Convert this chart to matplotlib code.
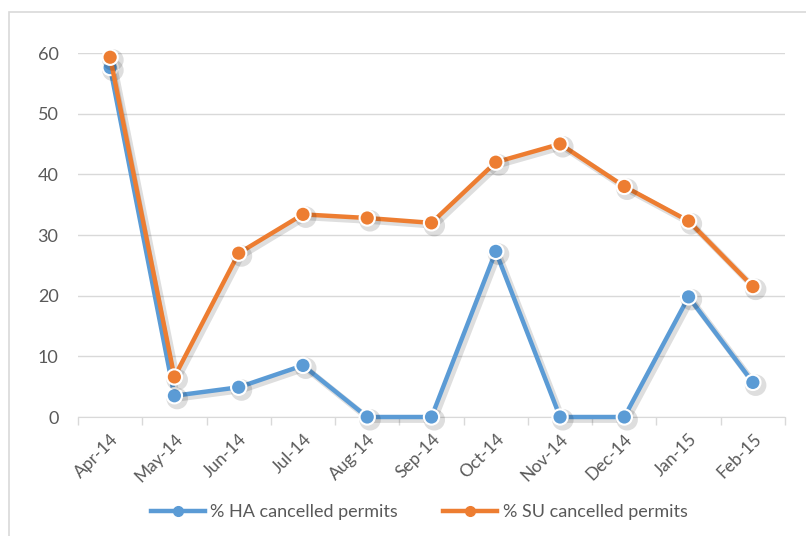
import matplotlib.pyplot as plt
import matplotlib.patheffects as pe
from matplotlib.patches import Rectangle
from matplotlib.lines import Line2D

months = ['Apr-14', 'May-14', 'Jun-14', 'Jul-14', 'Aug-14', 'Sep-14',
          'Oct-14', 'Nov-14', 'Dec-14', 'Jan-15', 'Feb-15']
ha_pct = [57.6, 3.5, 4.9, 8.5, 0, 0, 27.3, 0, 0, 19.8, 5.7]
su_pct = [59.3, 6.6, 27.0, 33.4, 32.8, 32.0, 42.0, 45.0, 38.0, 32.3, 21.5]

blue = '#5B9BD5'
orange = '#ED7D31'
txt = '#595959'

plt.rcParams['font.family'] = ['Lato', 'DejaVu Sans']

fig = plt.figure(figsize=(8.06, 5.36), dpi=100)
# outer chart frame (bottom/right edges fall outside the picture)
fig.patches.append(Rectangle((9 / 806, -0.05), 1.1, 1 - 12 / 536 + 0.05,
                             transform=fig.transFigure, fill=False,
                             edgecolor='#D9D9D9', linewidth=1.2))

ax = fig.add_axes([78 / 806, 1 - 417 / 536, (785 - 78) / 806, (417 - 53) / 536])

x = list(range(len(months)))
shadow = [pe.SimpleLineShadow(offset=(2, -2), shadow_color='black', alpha=0.13,
                              linewidth=4.5), pe.Normal()]
handles = []
for vals, col, lab in [(ha_pct, blue, '% HA cancelled permits'),
                       (su_pct, orange, '% SU cancelled permits')]:
    ax.plot(x, vals, color=col, linewidth=3.2, marker='o', markersize=11,
            markerfacecolor=col, markeredgecolor='white', markeredgewidth=1.5,
            clip_on=False, zorder=3, path_effects=shadow)
    handles.append(Line2D([], [], color=col, linewidth=3.2, marker='o',
                          markersize=7, markeredgecolor=col, label=lab))

ax.set_xlim(-0.5, len(months) - 0.5)
ax.set_ylim(0, 60)
ax.set_yticks([0, 10, 20, 30, 40, 50, 60])
ax.grid(axis='y', color='#D9D9D9', linewidth=1)
ax.set_axisbelow(True)

ax.set_xticks(x)
ax.set_xticklabels(months, rotation=45, ha='right', va='top', rotation_mode='anchor')
ax.set_xticks([i - 0.5 for i in range(len(months) + 1)], minor=True)
ax.tick_params(axis='x', which='major', length=0, pad=10, labelsize=12.5, labelcolor=txt)
ax.tick_params(axis='x', which='minor', length=6, color='#D9D9D9', width=1)
ax.tick_params(axis='y', length=0, pad=14, labelsize=13, labelcolor=txt)

for s in ['top', 'right', 'left']:
    ax.spines[s].set_visible(False)
ax.spines['bottom'].set_color('#D9D9D9')

leg = fig.legend(handles=handles, loc='center', bbox_to_anchor=(0.52, 1 - 512 / 536),
                 ncol=2, frameon=False, fontsize=13, handlelength=3.0,
                 columnspacing=2.5, handletextpad=0.3)
for t in leg.get_texts():
    t.set_color(txt)

fig.savefig('out.png', dpi=100)
